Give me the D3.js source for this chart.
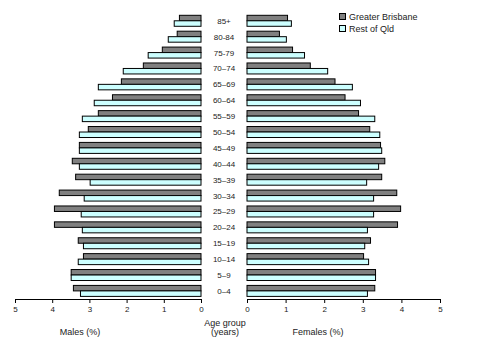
<!DOCTYPE html>
<html>
<head>
<meta charset="utf-8">
<script src="https://cdn.jsdelivr.net/npm/d3@7"></script>
<style>
  body { margin: 0; background: #fff; }
  text { font-family: Arial, "Liberation Sans", sans-serif; fill: #222; }
</style>
</head>
<body>
<div id="chart"></div>
<script>
// age groups, top to bottom
const ageGroups = ["85+", "80-84", "75-79", "70–74", "65–69", "60–64", "55–59", "50–54", "45–49",
  "40–44", "35–39", "30–34", "25–29", "20–24", "15–19", "10–14", "5–9", "0–4"];
const seriesNames = ["Greater Brisbane", "Rest of Qld"];

// males (%)
const malesBris = [0.58, 0.64, 1.04, 1.55, 2.14, 2.38, 2.76, 3.03, 3.27, 3.46, 3.37, 3.81, 3.94, 3.94, 3.30, 3.16, 3.49, 3.43];
const malesRest = [0.72, 0.88, 1.42, 2.09, 2.76, 2.87, 3.19, 3.27, 3.27, 3.27, 2.98, 3.14, 3.22, 3.19, 3.16, 3.30, 3.49, 3.24];
// females (%)
const femalesBris = [1.05, 0.84, 1.18, 1.64, 2.28, 2.54, 2.89, 3.18, 3.46, 3.57, 3.49, 3.88, 3.98, 3.90, 3.20, 3.02, 3.33, 3.31];
const femalesRest = [1.15, 1.02, 1.49, 2.09, 2.73, 2.94, 3.31, 3.44, 3.49, 3.41, 3.10, 3.28, 3.28, 3.12, 3.05, 3.15, 3.33, 3.12];

const xTicks = [0, 1, 2, 3, 4, 5];
const colors = ["#808080", "#ccffff"];

const width = 477, height = 364;
const svg = d3.select("#chart").append("svg")
  .attr("width", width).attr("height", height);

const axisY = 299;
const y = d3.scaleBand().domain(ageGroups).range([13, axisY]);
const yInner = d3.scaleBand().domain(seriesNames).range([2.3, y.bandwidth() - 2.6]);

const xLeft = d3.scaleLinear().domain([0, 5]).range([201, 15]);
const xRight = d3.scaleLinear().domain([0, 5]).range([247, 440]);

function drawSide(scale, bris, rest, isLeft) {
  [bris, rest].forEach((vals, s) => {
    svg.append("g").selectAll("rect").data(vals).join("rect")
      .attr("x", d => isLeft ? scale(d) : scale(0))
      .attr("y", (d, i) => y(ageGroups[i]) + yInner(seriesNames[s]))
      .attr("width", d => Math.abs(scale(d) - scale(0)))
      .attr("height", yInner.bandwidth())
      .attr("fill", colors[s])
      .attr("stroke", "#000")
      .attr("stroke-width", 1);
  });
  const ax = svg.append("g").attr("transform", `translate(0,${axisY})`)
    .call(d3.axisBottom(scale).tickValues(xTicks).tickSize(4).tickPadding(3).tickFormat(d3.format("d")));
  ax.select(".domain").attr("stroke", "#000");
  ax.selectAll("line").attr("stroke", "#000");
  ax.selectAll("text").style("font-size", "8px").style("font-family", "Arial, 'Liberation Sans', sans-serif").attr("fill", "#222");
}

drawSide(xLeft, malesBris, malesRest, true);
drawSide(xRight, femalesBris, femalesRest, false);

// category labels
svg.append("g").selectAll("text").data(ageGroups).join("text")
  .attr("x", 224)
  .attr("y", d => y(d) + y.bandwidth() / 2)
  .attr("dy", "0.35em")
  .attr("text-anchor", "middle")
  .style("font-size", "8px")
  .text(d => d);

// axis titles
svg.append("text").attr("x", 225).attr("y", 326).attr("text-anchor", "middle").style("font-size", "9px").text("Age group");
svg.append("text").attr("x", 225).attr("y", 335).attr("text-anchor", "middle").style("font-size", "9px").text("(years)");
svg.append("text").attr("x", 80).attr("y", 335).attr("text-anchor", "middle").style("font-size", "9px").text("Males (%)");
svg.append("text").attr("x", 318).attr("y", 335).attr("text-anchor", "middle").style("font-size", "9px").text("Females (%)");

// legend
const legend = svg.append("g").attr("transform", "translate(339,12)");
seriesNames.forEach((name, i) => {
  const g = legend.append("g").attr("transform", `translate(0,${i * 12})`);
  g.append("rect").attr("x", 0.5).attr("y", 1.5).attr("width", 6).attr("height", 6)
    .attr("fill", colors[i]).attr("stroke", "#000");
  g.append("text").attr("x", 10).attr("y", 4.5).attr("dy", "0.35em").style("font-size", "9px").text(name);
});
</script>
</body>
</html>
